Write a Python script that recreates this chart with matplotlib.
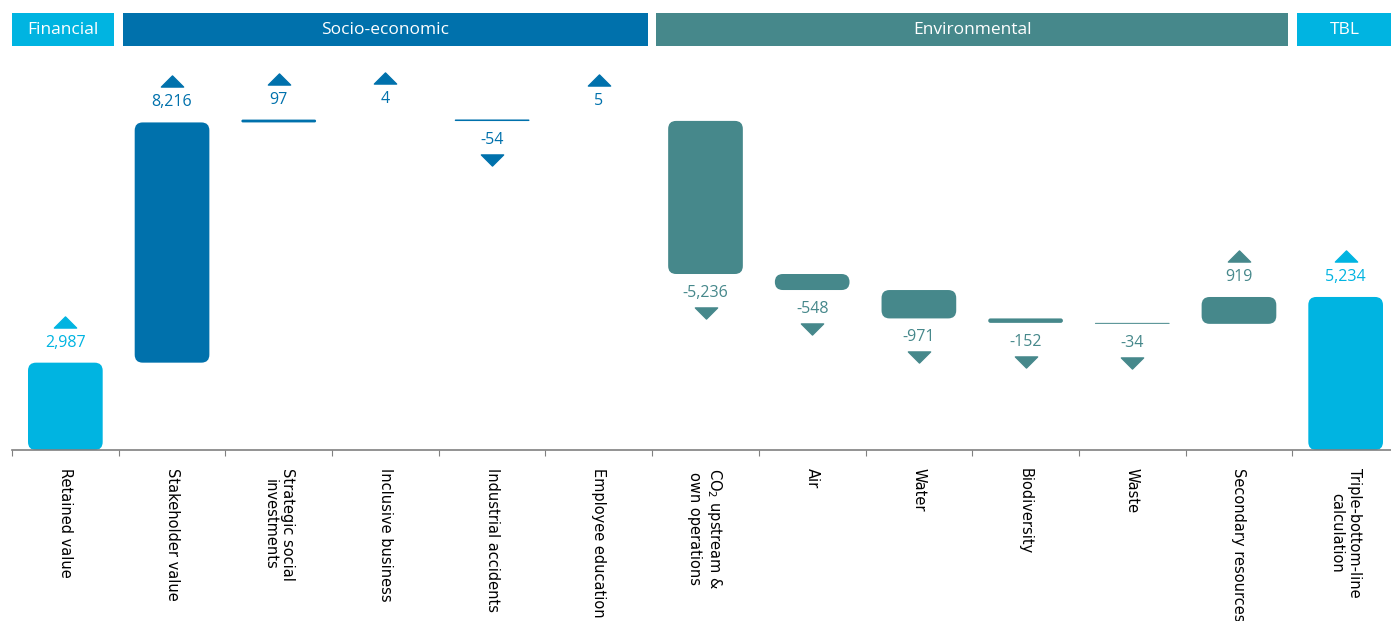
import numpy as np
import matplotlib
matplotlib.use('Agg')
import matplotlib.pyplot as plt
from matplotlib.patches import FancyBboxPatch, Rectangle
from matplotlib.transforms import offset_copy, blended_transform_factory
from matplotlib.path import Path


# data
categories = ['Retained value', 'Stakeholder value', 'Strategic social\ninvestments',
              'Inclusive business', 'Industrial accidents', 'Employee education',
              'CO$_2$ upstream &\nown operations', 'Air', 'Water', 'Biodiversity',
              'Waste', 'Secondary resources', 'Triple-bottom-line\ncalculation']
values = [2987, 8216, 97, 4, -54, 5, -5236, -548, -971, -152, -34, 919, 5234]
is_total = [True, False, False, False, False, False, False, False, False, False, False, False, True]
cat_group = ['Financial', 'Socio-economic', 'Socio-economic', 'Socio-economic',
             'Socio-economic', 'Socio-economic', 'Environmental', 'Environmental',
             'Environmental', 'Environmental', 'Environmental', 'Environmental', 'TBL']
group_names = ['Financial', 'Socio-economic', 'Environmental', 'TBL']

colors = {'Financial': '#00B4E1', 'Socio-economic': '#0071AC',
          'Environmental': '#46888B', 'TBL': '#00B4E1'}

W, H = 1391, 621
fig = plt.figure(figsize=(W / 100, H / 100), dpi=100)
# axes: x from 12px to ~1399px, baseline at 450px, top at 60px
ax = fig.add_axes([12 / W, (H - 450) / H, 1387 / W, 390 / H])
units_per_px = 34.2
ax.set_xlim(-0.5, 12.5)
ax.set_ylim(0, 390 * units_per_px)

px_x = 1 / 106.7
aspect = units_per_px / px_x
rad = 8 * px_x
bw = 0.70

up_tri = Path([(-1, -0.5), (1, -0.5), (0, 0.5), (-1, -0.5)],
              [Path.MOVETO, Path.LINETO, Path.LINETO, Path.CLOSEPOLY])
dn_tri = Path([(-1, 0.5), (1, 0.5), (0, -0.5), (-1, 0.5)],
              [Path.MOVETO, Path.LINETO, Path.LINETO, Path.CLOSEPOLY])

cum = 0
for i, v in enumerate(values):
    c = colors[cat_group[i]]
    if is_total[i]:
        lo, hi = 0, v
    else:
        lo, hi = min(cum, cum + v), max(cum, cum + v)
        cum += v
    if i == 0:
        cum = v
    h = hi - lo
    if h / units_per_px >= 0.5:
        r = min(rad, h / aspect / 2)
        p = FancyBboxPatch((i - bw / 2, lo), bw, h,
                           boxstyle=f"round,pad=0,rounding_size={r}",
                           mutation_aspect=aspect, fc=c, ec='none', lw=0)
        ax.add_patch(p)

    lab = f"{v:,}"
    if v >= 0:
        ax.annotate(lab, (i, hi), xytext=(0, 20), textcoords='offset pixels',
                    ha='center', va='center', color=c, fontsize=11.5,
                    family='Open Sans')
        tr = offset_copy(ax.transData, fig=fig, x=0, y=41, units='dots')
        ax.plot([i], [hi], marker=up_tri, ms=16, color=c, transform=tr,
                clip_on=False, lw=0)
    else:
        ax.annotate(lab, (i, lo), xytext=(0, -19), textcoords='offset pixels',
                    ha='center', va='center', color=c, fontsize=11.5,
                    family='Open Sans')
        tr = offset_copy(ax.transData, fig=fig, x=0, y=-39, units='dots')
        ax.plot([i], [lo], marker=dn_tri, ms=16, color=c, transform=tr,
                clip_on=False, lw=0)

# header bands
btr = blended_transform_factory(ax.transData, fig.transFigure)
gap = 0.04
for g in group_names:
    idx = [k for k, cg in enumerate(cat_group) if cg == g]
    x0 = idx[0] - 0.5 + (gap if idx[0] > 0 else 0)
    x1 = idx[-1] + 0.5 - (gap if idx[-1] < len(values) - 1 else 0)
    ax.add_patch(Rectangle((x0, (H - 46) / H), x1 - x0, 33 / H, transform=btr,
                           fc=colors[g], ec='none', clip_on=False))
    xc = (x0 + min(x1, 12.44)) / 2
    ax.text(xc, (H - 29.5) / H, g, transform=btr, ha='center', va='center',
            color='white', fontsize=12.5, family='Open Sans')

# axis
for s in ['top', 'right', 'left']:
    ax.spines[s].set_visible(False)
ax.spines['bottom'].set_color('#808080')
ax.spines['bottom'].set_linewidth(1.2)
ax.set_yticks([])
ax.set_xticks(np.arange(-0.5, 13, 1))
ax.set_xticklabels([])
ax.tick_params(axis='x', which='major', direction='out', length=4, color='#808080')
ax.set_xticks(np.arange(13), minor=True)
ax.set_xticklabels(categories, minor=True, rotation=-90, va='top', ha='center',
                   fontsize=10.5)
ax.tick_params(axis='x', which='minor', length=0, pad=13)

fig.savefig('out.png', dpi=100)
